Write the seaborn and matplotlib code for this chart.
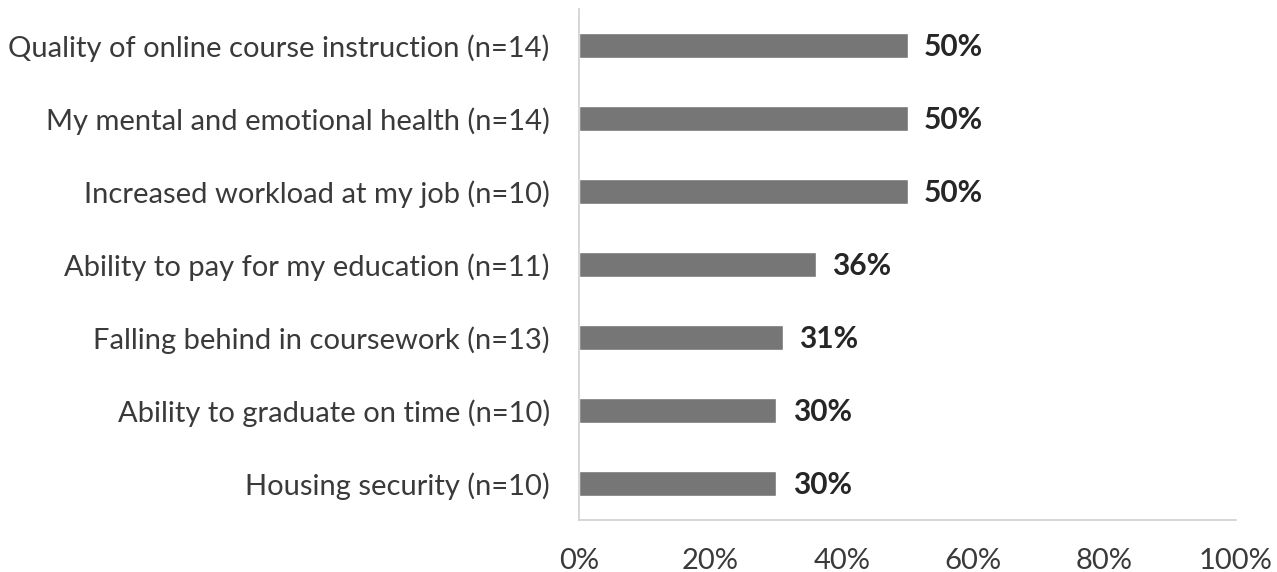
import matplotlib
matplotlib.use("Agg")
import matplotlib.pyplot as plt
import seaborn as sns
import pandas as pd

categories = [
    "Quality of online course instruction (n=14)",
    "My mental and emotional health (n=14)",
    "Increased workload at my job (n=10)",
    "Ability to pay for my education (n=11)",
    "Falling behind in coursework (n=13)",
    "Ability to graduate on time (n=10)",
    "Housing security (n=10)",
]
values = [50, 50, 50, 36, 31, 30, 30]
x_ticks = [0, 20, 40, 60, 80, 100]
x_tick_labels = ["0%", "20%", "40%", "60%", "80%", "100%"]

sns.set_theme(style="white")
plt.rcParams["font.family"] = ["Lato", "DejaVu Sans"]

df = pd.DataFrame({"category": categories, "value": values})

fig = plt.figure(figsize=(12.77, 5.72), dpi=100)
ax = fig.add_axes([0.4534, 0.0909, 0.5145, 0.893])

sns.barplot(data=df, x="value", y="category", color="#767676",
            saturation=1, width=0.35, ax=ax)

ax.set_xlim(0, 100)
ax.set_ylim(6.5, -0.5)
ax.set_xticks(x_ticks)
ax.set_xticklabels(x_tick_labels)
ax.set_xlabel("")
ax.set_ylabel("")

for spine in ["top", "right"]:
    ax.spines[spine].set_visible(False)
for spine in ["left", "bottom"]:
    ax.spines[spine].set_color("#d0d0d0")
    ax.spines[spine].set_linewidth(1.2)

ax.tick_params(axis="y", length=0, pad=21, labelsize=21, labelcolor="#3a3a3a")
ax.tick_params(axis="x", length=0, pad=20, labelsize=21, labelcolor="#3a3a3a")

for i, v in enumerate(values):
    ax.annotate(f"{v}%", xy=(v, i), xytext=(12, -1), textcoords="offset points",
                va="center", ha="left", fontsize=21.5, fontweight="bold",
                color="#262626")

fig.savefig("out.png", dpi=100)
